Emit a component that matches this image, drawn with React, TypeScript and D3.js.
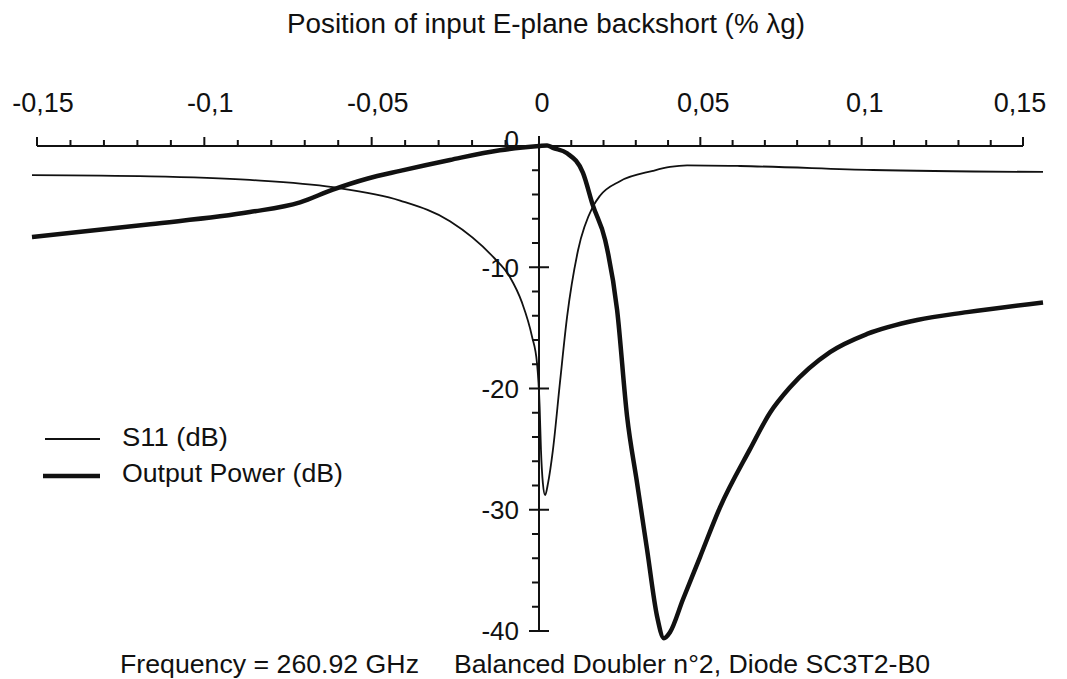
import React from 'react';
import * as d3 from 'd3';

// position of backshort (% lambda g) and dB values
const s11X = [-0.1515, -0.1162, -0.0864, -0.0616, -0.0415, -0.0266, -0.0137, -0.0087, -0.0051, -0.0021, -0.0006, 0.0002, 0.0006, 0.0012, 0.0019, 0.0028, 0.0043, 0.0065, 0.0087, 0.0121, 0.0167, 0.0189, 0.0251, 0.0353, 0.0406, 0.0459, 0.0623, 0.1035, 0.1562];
const s11Y = [-2.4, -2.5, -2.8, -3.4, -4.5, -6.2, -9.15, -10.8, -12.9, -15.7, -17.9, -21.5, -25, -27.8, -28.8, -27.8, -25.1, -19.5, -14.1, -8.6, -5.0, -4.1, -2.9, -2.05, -1.73, -1.6, -1.65, -1.98, -2.14];

const powX = [-0.1515, -0.1162, -0.0864, -0.0714, -0.0616, -0.0514, -0.0415, -0.0266, -0.0117, 0, 0.0025, 0.0043, 0.0087, 0.0136, 0.0167, 0.0205, 0.0242, 0.0273, 0.0304, 0.0335, 0.0366, 0.0387, 0.0406, 0.0446, 0.0499, 0.0561, 0.0654, 0.0716, 0.0778, 0.0902, 0.1017, 0.1172, 0.1327, 0.1562];
const powY = [-7.5, -6.45, -5.45, -4.65, -3.6, -2.7, -2.05, -1.15, -0.35, 0, 0.05, -0.15, -0.6, -2.2, -4.9, -7.75, -13.5, -22.3, -27.8, -33.3, -38.8, -40.6, -40.1, -37.4, -33.9, -29.8, -25.0, -22.0, -19.9, -17.0, -15.5, -14.35, -13.7, -12.9];

const xTicks = [-0.15, -0.1, -0.05, 0, 0.05, 0.1, 0.15];
const yTicks = [0, -10, -20, -30, -40];

const FONT = "'Liberation Sans', Arial, Helvetica, sans-serif";

export default function App() {
  const x = d3.scaleLinear().domain([-0.15, 0, 0.15]).range([37, 539, 1023]);
  const y = d3.scaleLinear().domain([0, -40]).range([146, 631]);

  const line = d3.line<[number, number]>().x(d => x(d[0])).y(d => y(d[1])).curve(d3.curveMonotoneX);
  const s11 = s11X.map((v, i) => [v, s11Y[i]] as [number, number]);
  const pow = powX.map((v, i) => [v, powY[i]] as [number, number]);

  const minorX = d3.range(-15, 16).map(i => i / 100).filter(v => !xTicks.some(t => Math.abs(t - v) < 1e-9));
  const minorY = d3.range(0, -41, -2).filter(v => v % 10 !== 0);
  const fmt = (d: number) => String(d).replace('.', ',');

  return (
    <svg width={1067} height={679} style={{ position: 'absolute', left: 0, top: 0, background: '#fff' }} fontFamily={FONT} fill="#111">
      <text x={546} y={33} fontSize={27} textAnchor="middle" textLength={518} lengthAdjust="spacingAndGlyphs">Position of input E-plane backshort  (% λg)</text>

      {/* top x axis */}
      <line x1={x(-0.15)} x2={x(0.15)} y1={y(0)} y2={y(0)} stroke="#111" strokeWidth={2} />
      {xTicks.map(t => (
        <g key={t}>
          <line x1={x(t)} x2={x(t)} y1={y(0)} y2={y(0) - 9} stroke="#111" strokeWidth={2} />
          <text x={x(t) + (t < 0 ? 6 : t > 0.1 ? -3 : 3)} y={112} fontSize={27} textAnchor="middle">{fmt(t)}</text>
        </g>
      ))}
      {minorX.map(t => (
        <line key={t} x1={x(t)} x2={x(t)} y1={y(0)} y2={y(0) - 6} stroke="#111" strokeWidth={2} />
      ))}

      {/* y axis at x = 0 */}
      <line x1={x(0)} x2={x(0)} y1={y(0) - 10} y2={y(-40)} stroke="#111" strokeWidth={2} />
      {yTicks.map(t => (
        <g key={t}>
          {t !== 0 && <line x1={x(0) - 10} x2={x(0) + 10} y1={y(t)} y2={y(t)} stroke="#111" strokeWidth={2} />}
          <text x={519} y={y(t)} dy={t === 0 ? '0.1em' : '0.36em'} fontSize={26} textAnchor="end">{t}</text>
        </g>
      ))}
      {minorY.map(t => (
        <line key={t} x1={x(0) - 7} x2={x(0)} y1={y(t)} y2={y(t)} stroke="#111" strokeWidth={2} />
      ))}

      <path d={line(s11) || ''} fill="none" stroke="#111" strokeWidth={1.8} />
      <path d={line(pow) || ''} fill="none" stroke="#111" strokeWidth={4.5} />

      {/* legend */}
      <line x1={45} x2={100} y1={439} y2={439} stroke="#111" strokeWidth={1.8} />
      <text x={122} y={446} fontSize={26} textLength={106} lengthAdjust="spacingAndGlyphs">S11 (dB)</text>
      <line x1={43} x2={100} y1={476} y2={476} stroke="#111" strokeWidth={4.5} />
      <text x={122} y={482} fontSize={26} textLength={221} lengthAdjust="spacingAndGlyphs">Output Power (dB)</text>

      <text x={120} y={673} fontSize={26} textLength={299} lengthAdjust="spacingAndGlyphs">Frequency = 260.92 GHz</text>
      <text x={454} y={673} fontSize={26} textLength={476} lengthAdjust="spacingAndGlyphs">Balanced Doubler n°2, Diode SC3T2-B0</text>
    </svg>
  );
}
